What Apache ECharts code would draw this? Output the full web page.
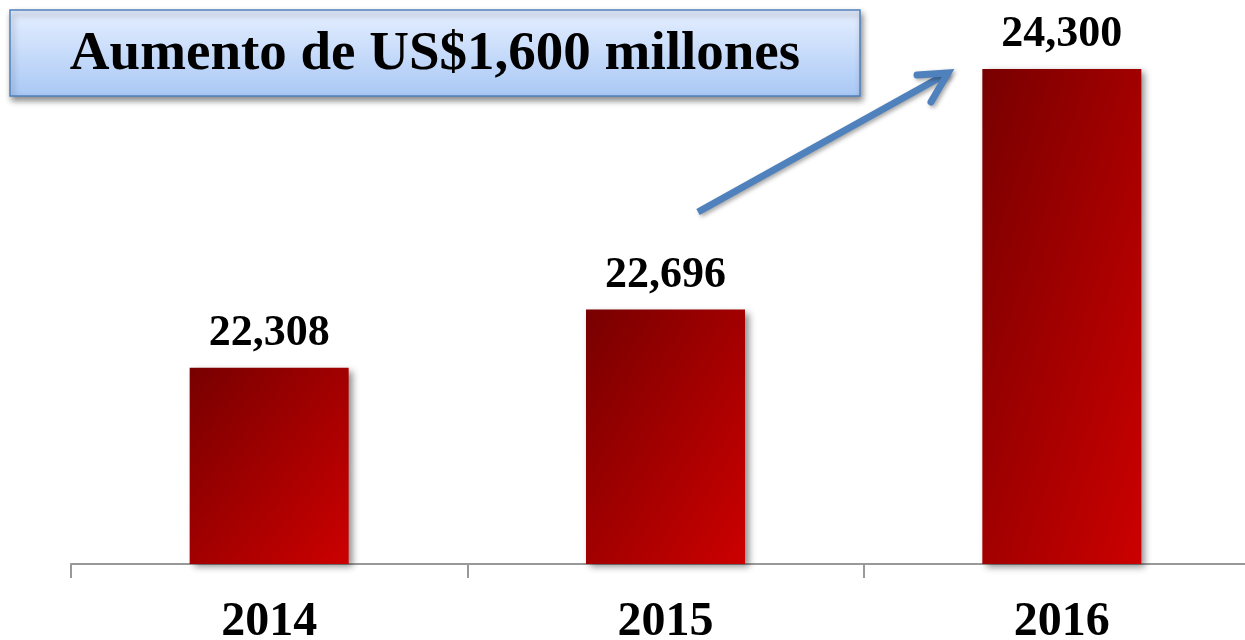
<!DOCTYPE html>
<html>
<head>
<meta charset="utf-8">
<script src="https://cdn.jsdelivr.net/npm/echarts@6.0.0/dist/echarts.min.js"></script>
<style>
  html, body { margin: 0; padding: 0; background: #fff; }
  #chart { width: 1245px; height: 640px; }
</style>
</head>
<body>
<div id="chart"></div>
<script>
// datos del grafico
var years = ['2014', '2015', '2016'];
var amounts = [22308, 22696, 24300];
var headline = 'Aumento de US$1,600 millones';

var serif = '"Liberation Serif", "DejaVu Serif", serif';
var BAR_W = 159;

var myChart = echarts.init(document.getElementById('chart'));

var option = {
    backgroundColor: '#ffffff',
    animation: false,
    grid: {
        left: 71,
        right: -15,
        top: 69,
        bottom: 76,
        outerBoundsMode: 'none'
    },
    xAxis: {
        type: 'category',
        data: years,
        axisLine: { lineStyle: { color: '#999999', width: 2 } },
        axisTick: { show: true, length: 14, lineStyle: { color: '#999999', width: 2 } },
        axisLabel: {
            margin: 35,
            color: '#000',
            fontFamily: serif,
            fontWeight: 'bold',
            fontSize: 48
        }
    },
    yAxis: {
        type: 'value',
        min: 21000,
        max: 24300,
        show: false,
        splitLine: { show: false }
    },
    series: [{
        type: 'bar',
        data: amounts,
        barWidth: BAR_W,
        itemStyle: {
            color: '#a00000',
            shadowColor: 'rgba(0,0,0,0.45)',
            shadowBlur: 7,
            shadowOffsetX: 4,
            shadowOffsetY: 3
        },
        label: {
            show: true,
            position: 'top',
            distance: 12,
            color: '#000',
            fontFamily: serif,
            fontWeight: 'bold',
            fontSize: 44,
            formatter: function (p) {
                return p.value.toLocaleString('en-US');
            }
        }
    }],
    graphic: [
        {
            // recuadro del titulo
            type: 'rect',
            shape: { x: 10, y: 10, width: 850, height: 86 },
            style: {
                fill: new echarts.graphic.LinearGradient(0, 0, 0, 1, [
                    { offset: 0, color: '#e6efff' },
                    { offset: 1, color: '#a9c8f5' }
                ]),
                stroke: '#4f81bd',
                lineWidth: 1.5,
                shadowColor: 'rgba(0,0,0,0.45)',
                shadowBlur: 6,
                shadowOffsetX: 2,
                shadowOffsetY: 4
            },
            z: 10
        },
        {
            type: 'text',
            x: 435,
            y: 55,
            style: {
                text: headline,
                fill: '#000',
                font: 'bold 55px ' + serif,
                align: 'center',
                verticalAlign: 'middle'
            },
            z: 11
        },
        {
            // flecha
            type: 'group',
            z: 10,
            children: [
                {
                    type: 'polyline',
                    shape: { points: [[698, 212], [948, 73]] },
                    style: {
                        stroke: '#4f81bd', lineWidth: 7, lineCap: 'butt',
                        shadowColor: 'rgba(0,0,0,0.35)', shadowBlur: 4, shadowOffsetX: 2, shadowOffsetY: 2
                    }
                },
                {
                    type: 'polyline',
                    shape: { points: [[917, 75], [948, 73], [931, 102]] },
                    style: {
                        stroke: '#4f81bd', fill: null, lineWidth: 7, lineCap: 'round', lineJoin: 'miter',
                        shadowColor: 'rgba(0,0,0,0.35)', shadowBlur: 4, shadowOffsetX: 2, shadowOffsetY: 2
                    }
                }
            ]
        }
    ]
};

myChart.setOption(option);

// degradado diagonal tipo PowerPoint: las isolineas siguen la otra diagonal de cada barra
var base = myChart.convertToPixel({ gridIndex: 0 }, [0, 21000])[1];
var styled = amounts.map(function (v, i) {
    var top = myChart.convertToPixel({ gridIndex: 0 }, [i, v])[1];
    var h = base - top, w = BAR_W;
    var d = h * h + w * w;
    return {
        value: v,
        itemStyle: {
            color: new echarts.graphic.LinearGradient(0, 0, 2 * h * h / d, 2 * w * w / d, [
                { offset: 0, color: '#780000' },
                { offset: 1, color: '#cc0000' }
            ])
        }
    };
});
myChart.setOption({ series: [{ data: styled }] });
</script>
</body>
</html>
